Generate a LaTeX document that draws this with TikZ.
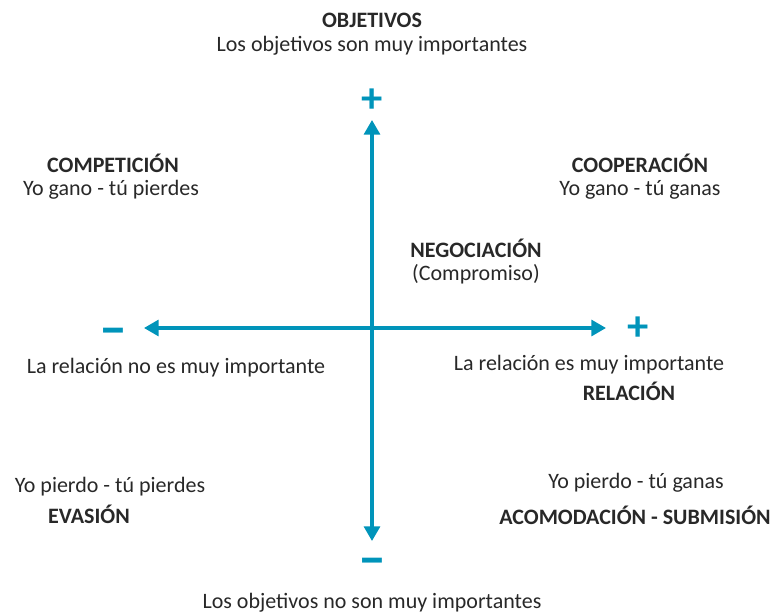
\documentclass[tikz,border=0pt]{standalone}
\usepackage{fontspec}
\setmainfont{Carlito}
\usepackage{xcolor}
\usetikzlibrary{arrows.meta,positioning}
\definecolor{axisblue}{RGB}{0,148,186}
\definecolor{txtgray}{RGB}{40,40,40}
\tikzset{
  lbl/.style={text=txtgray,font=\fontsize{16.5}{19}\selectfont,align=center,inner sep=0pt},
  ttl/.style={lbl,font=\fontsize{16.5}{19}\selectfont\bfseries},
  sgn/.style={text=axisblue,font=\fontsize{32}{32}\selectfont\bfseries,inner sep=0pt},
  sgnm/.style={sgn,font=\fontsize{42}{42}\selectfont\bfseries},
  axisline/.style={axisblue,line width=2.4pt,{Triangle[length=11pt,width=12pt]}-{Triangle[length=11pt,width=12pt]}}
}
\begin{document}
\begin{tikzpicture}[x=0.75pt,y=-0.75pt]
\useasboundingbox (0,0) rectangle (774,614);
% axes
\coordinate (o) at (372,328);
\coordinate (up) at (372,120);
\coordinate (dn) at (372,541);
\coordinate (lt) at (144,328);
\coordinate (rt) at (606,328);
\draw[axisline] (dn) -- (up);
\draw[axisline] (lt) -- (rt);
% signs
\node[sgn] (pup) at (372,101) {+};
\node[sgnm] (mdn) at (372,567) {–};
\node[sgnm] (mlt) at (113,337) {–};
\node[sgn] (prt) at (638,329) {+};
% labels
\node[ttl] (objt) at (372,20) {OBJETIVOS};
\node[lbl] (objs) at (372,46) {Los objetivos son muy importantes};
\node[ttl] (comp) at (113,163) {COMPETICIÓN};
\node[lbl] (comps) at (111,190) {Yo gano - tú pierdes};
\node[ttl] (coop) at (640,163) {COOPERACIÓN};
\node[lbl] (coops) at (640,190) {Yo gano - tú ganas};
\node[ttl] (nego) at (476,248) {NEGOCIACIÓN};
\node[lbl] (negos) at (476,274) {(Compromiso)};
\node[lbl] (relno) at (176,368) {La relación no es muy importante};
\node[lbl] (relsi) at (589,365) {La relación es muy importante};
\node[ttl] (relt) at (629,391) {RELACIÓN};
\node[lbl] (evas) at (110,487) {Yo pierdo - tú pierdes};
\node[ttl] (eva) at (89,514) {EVASIÓN};
\node[lbl] (acoms) at (636,483) {Yo pierdo - tú ganas};
\node[ttl] (acom) at (635,515) {ACOMODACIÓN - SUBMISIÓN};
\node[lbl] (objno) at (372,603) {Los objetivos no son muy importantes};
\end{tikzpicture}
\end{document}
